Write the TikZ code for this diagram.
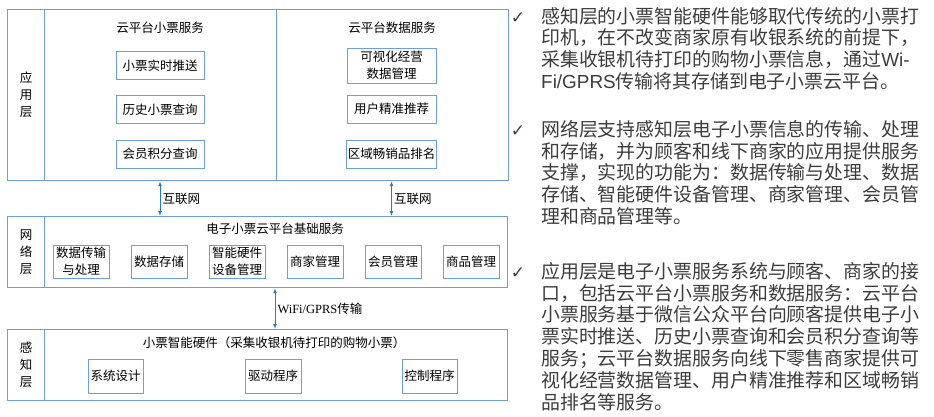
\documentclass[tikz,border=0pt]{standalone}
\usepackage{fontspec}
\setmainfont{Noto Sans CJK SC}
\newfontfamily\latinserif{Liberation Serif}
\newfontfamily\latinsans{Liberation Sans}
\newfontfamily\symfont{DejaVu Sans}
\usetikzlibrary{positioning,arrows.meta}

\definecolor{frameblue}{RGB}{110,160,210}
\definecolor{arrowblue}{RGB}{50,120,200}
\definecolor{notegray}{RGB}{60,60,60}

\tikzset{
  layer/.style={draw=frameblue, line width=1.2pt, inner sep=0pt, anchor=north west,
    align=center, font=\fontsize{12.5}{17}\selectfont},
  item/.style={draw=frameblue, line width=1pt, minimum width=56pt, minimum height=33pt,
    inner sep=1pt, align=center, font=\fontsize{12.5}{17}\selectfont},
  title/.style={font=\fontsize{12.5}{15}\selectfont},
  link/.style={draw=arrowblue, line width=1pt,
    {Latex[length=5pt,width=4pt]}-{Latex[length=5pt,width=4pt]}},
  note/.style={anchor=north west, align=left, inner sep=0pt, text=notegray,
    font=\fontsize{18.9}{21.8}\selectfont},
  tick/.style={text=notegray, font=\symfont\fontsize{17}{17}\selectfont}
}

\begin{document}
\begin{tikzpicture}[x=1pt, y=-1pt]
    \useasboundingbox (0,0) rectangle (934,416);

    % First, the three layers and their frames
    \node[layer, minimum width=37pt, minimum height=171pt] (applbl) at (7,9) {应\\用\\层};
    \node[layer, minimum width=232pt, minimum height=171pt] (appL) at (44,9) {};
    \node[layer, minimum width=232pt, minimum height=171pt] (appR) at (276,9) {};
    \node[layer, minimum width=37pt, minimum height=71pt] (netlbl) at (7,216) {网\\络\\层};
    \node[layer, minimum width=463pt, minimum height=71pt] (netbody) at (44,216) {};
    \node[layer, minimum width=37pt, minimum height=71pt] (perlbl) at (7,329) {感\\知\\层};
    \node[layer, minimum width=463pt, minimum height=71pt] (perbody) at (44,329) {};

    % Application layer
    \node[title] (appLtitle) at (160,28) {云平台小票服务};
    \node[title] (appRtitle) at (392,28) {云平台数据服务};
    \node[item, minimum width=88pt, minimum height=28pt] (push) at (160,65.5) {小票实时推送};
    \node[item, minimum width=88pt, minimum height=28pt, below=15pt of push] (history) {历史小票查询};
    \node[item, minimum width=88pt, minimum height=28pt, below=15.5pt of history] (points) {会员积分查询};
    \node[item, minimum width=89pt, minimum height=35pt] (visual) at (391.5,65.5) {可视化经营\\数据管理};
    \node[item, minimum width=89pt, minimum height=28pt] (recommend) at (391.5,109) {用户精准推荐};
    \node[item, minimum width=89pt, minimum height=28pt] (ranking) at (points -| recommend) {区域畅销品排名};

    % Network layer
    \node[title] (nettitle) at (275,229) {电子小票云平台基础服务};
    \node[item] (trans) at (81,261.5) {数据传输\\与处理};
    \node[item, right=21pt of trans] (store) {数据存储};
    \node[item, right=21pt of store] (device) {智能硬件\\设备管理};
    \node[item, right=21pt of device] (merchant) {商家管理};
    \node[item, right=21pt of merchant] (member) {会员管理};
    \node[item, right=21pt of member] (goods) {商品管理};

    % Perception layer
    \node[title] (pertitle) at (274,343) {小票智能硬件（采集收银机待打印的购物小票）};
    \node[item, minimum width=55pt, minimum height=34pt] (sysdesign) at (115.5,376) {系统设计};
    \node[item, minimum width=56pt, minimum height=34pt] (driver) at (273,376) {驱动程序};
    \node[item, minimum width=55pt, minimum height=34pt] (control) at (429.5,376) {控制程序};

    % Now draw the links between the layers
    \draw[link] (appL.south -| push) -- node[right, title, inner sep=2pt] {互联网} (netbody.north -| push);
    \draw[link] (appR.south -| visual) -- node[right, title, inner sep=2pt] {互联网} (netbody.north -| visual);
    \draw[link] (netbody.south -| nettitle) -- node[right, title, inner sep=2pt] {{\latinserif WiFi/GPRS}传输} (perbody.north -| nettitle);

    % Notes on the right
    \node[tick] (tick1) at (518,18) {✓};
    \node[note] (note1) at (541,7) {感知层的小票智能硬件能够取代传统的小票打\\
      印机，在不改变商家原有收银系统的前提下，\\
      采集收银机待打印的购物小票信息，通过{\latinsans Wi-}\\
      {\latinsans Fi/GPRS}传输将其存储到电子小票云平台。};
    \node[tick] (tick2) at (518,131) {✓};
    \node[note] (note2) at (541,120) {网络层支持感知层电子小票信息的传输、处理\\
      和存储，并为顾客和线下商家的应用提供服务\\
      支撑，实现的功能为：数据传输与处理、数据\\
      存储、智能硬件设备管理、商家管理、会员管\\
      理和商品管理等。};
    \node[tick] (tick3) at (518,273) {✓};
    \node[note] (note3) at (541,262) {应用层是电子小票服务系统与顾客、商家的接\\
      口，包括云平台小票服务和数据服务：云平台\\
      小票服务基于微信公众平台向顾客提供电子小\\
      票实时推送、历史小票查询和会员积分查询等\\
      服务；云平台数据服务向线下零售商家提供可\\
      视化经营数据管理、用户精准推荐和区域畅销\\
      品排名等服务。};
\end{tikzpicture}
\end{document}
